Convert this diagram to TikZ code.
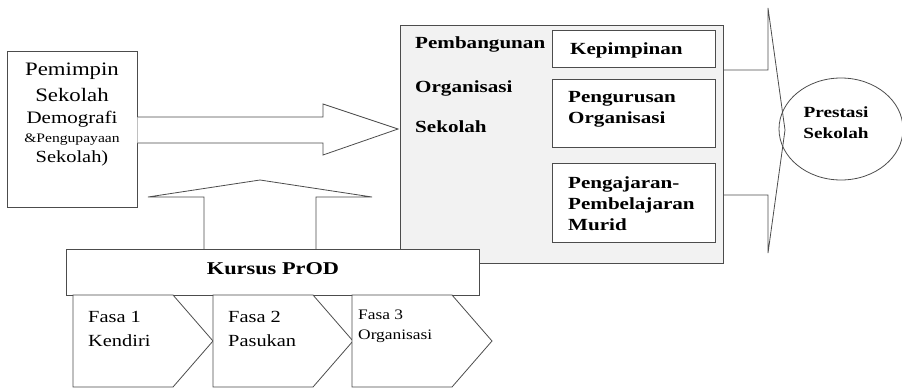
\documentclass[tikz,border=0pt]{standalone}
\usepackage{fontspec}
\setmainfont{Liberation Serif}
\usetikzlibrary{positioning}
\usetikzlibrary{shapes.geometric}
\definecolor{panel}{gray}{0.95}
\definecolor{edge}{gray}{0.3}
\newcommand{\widereg}[1]{\scalebox{1.2}[1]{#1}}
\newcommand{\widebold}[1]{\scalebox{1.24}[1]{#1}}

\begin{document}
\begin{tikzpicture}[x=1pt, y=-1pt, every node/.style={inner sep=0pt},
    box/.style={rectangle, draw=edge, line width=0.9pt, fill=white},
    blk/.style={draw=edge, line width=0.8pt, fill=white, line join=miter},
    bt/.style={anchor=base west, font=\bfseries\fontsize{17}{18}\selectfont},
    rt/.style={anchor=base west, font=\fontsize{17}{18}\selectfont}]
            \useasboundingbox (0,0) rectangle (902,388);

            % input
            \node[box, minimum width=130, minimum height=156] (leader) at (72, 129) {};
            \node[anchor=base, font=\fontsize{19}{20}\selectfont] (lead1) at (72, 75) {\widereg{Pemimpin}};
            \node[anchor=base, font=\fontsize{19}{20}\selectfont] (lead2) at (72, 101) {\widereg{Sekolah}};
            \node[anchor=base, font=\fontsize{17.5}{18}\selectfont] (lead3) at (72, 123) {\widereg{Demografi}};
            \node[anchor=base, font=\fontsize{13}{14}\selectfont] (lead4) at (72, 142) {\widereg{\&Pengupayaan}};
            \node[anchor=base, font=\fontsize{17}{18}\selectfont] (lead5) at (72, 162) {\widereg{Sekolah)}};

            % organisation block
            \node[box, fill=panel, minimum width=323, minimum height=238] (build) at (561.5, 144) {};
            \node[bt] (b1) at (415, 48) {\widebold{Pembangunan}};
            \node[bt] (b2) at (415, 92) {\widebold{Organisasi}};
            \node[bt] (b3) at (415, 132) {\widebold{Sekolah}};

            \node[box, minimum width=163, minimum height=37] (kep) at (633.5, 48.5) {};
            \node[box, minimum width=163, minimum height=68] (urus) at (633.5, 113) {};
            \node[box, minimum width=163, minimum height=79] (ajar) at (633.5, 202.5) {};
            \node[bt] (kep1) at (570, 54) {\widebold{Kepimpinan}};
            \node[bt] (urus1) at (568, 102) {\widebold{Pengurusan}};
            \node[bt] (urus2) at (568, 123) {\widebold{Organisasi}};
            \foreach \t [count=\k] in {Pengajaran-, Pembelajaran, Murid}
                \node[bt] (ajar\k) at (568, 167.5 + 21*\k) {\widebold{\t}};

            % arrow into the block
            \draw[blk] (leader.east |- 0,117) -- (323,117) -- (323,104) -- (398,129)
                -- (323,155) -- (323,143) -- (leader.east |- 0,143);

            % output
            \node[ellipse, draw=edge, line width=0.8pt, minimum width=124, minimum height=102] (perf) at (841, 129) {};
            \draw[blk, fill=none] (build.east |- 0,70) -- (768,70) -- (768,8) -- (785,130)
                -- (768,253) -- (768,195) -- (build.east |- 0,195);
            \node[anchor=base, font=\bfseries\fontsize{15.5}{16}\selectfont] (perf1) at (836, 117) {\widebold{Prestasi}};
            \node[anchor=base, font=\bfseries\fontsize{15.5}{16}\selectfont] (perf2) at (836, 138) {\widebold{Sekolah}};

            % course
            \draw[blk] (204,252) -- (204,197) -- (148,197) -- (260,180) -- (372,197)
                -- (316,197) -- (316,252);
            \node[box, minimum width=413, minimum height=46] (kursus) at (272.5, 272) {};
            \node[anchor=base, font=\bfseries\fontsize{18}{18}\selectfont] (kursus1) at (273, 274) {\widebold{Kursus PrOD}};

            \foreach \x in {73, 213, 352}
                \draw[blk] (\x,295) -- ++(100,0) -- ++(40,46) -- ++(-40,46) -- ++(-100,0) -- cycle;
            \node[rt] (f1a) at (88, 322) {\widereg{Fasa 1}};
            \node[rt] (f1b) at (88, 346) {\widereg{Kendiri}};
            \node[rt] (f2a) at (228, 322) {\widereg{Fasa 2}};
            \node[rt] (f2b) at (228, 346) {\widereg{Pasukan}};
            \node[rt, font=\fontsize{14.5}{15}\selectfont] (f3a) at (358, 319) {\widereg{Fasa 3}};
            \node[rt, font=\fontsize{14.5}{15}\selectfont] (f3b) at (358, 339) {\widereg{Organisasi}};
        \end{tikzpicture}
\end{document}
